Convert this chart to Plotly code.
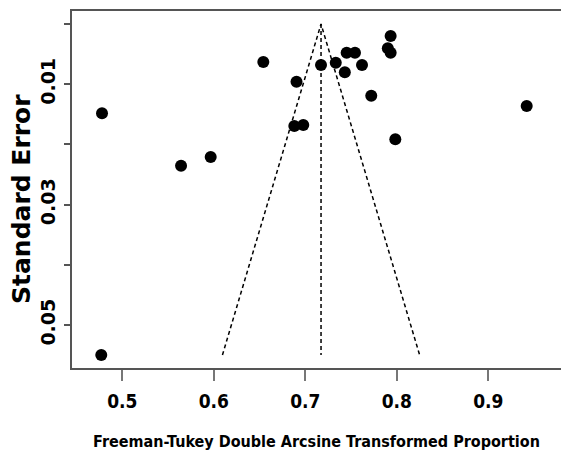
import plotly.graph_objects as go

# Study estimates (Freeman-Tukey double arcsine transformed proportion) and standard errors
effect = [0.4778, 0.5642, 0.5966, 0.6541, 0.6904, 0.6880, 0.6978, 0.7172, 0.7333, 0.7452,
          0.7543, 0.7432, 0.7620, 0.7721, 0.7933, 0.7902, 0.7933, 0.7984, 0.9420, 0.4770]
std_err = [0.01483, 0.02353, 0.02209, 0.00631, 0.00958, 0.01694, 0.01678, 0.00681, 0.00642, 0.00476,
           0.00476, 0.00803, 0.00681, 0.01191, 0.00199, 0.00404, 0.00476, 0.01916, 0.01362, 0.05498]
pooled = 0.7172
z = 1.96

x_ticks = [0.5, 0.6, 0.7, 0.8, 0.9]
x_tick_labels = ["0.5", "0.6", "0.7", "0.8", "0.9"]
y_ticks = [0.0, 0.01, 0.02, 0.03, 0.04, 0.05]
y_tick_labels = ["", "0.01", "", "0.03", "", "0.05"]
x_title = "Freeman-Tukey Double Arcsine Transformed Proportion"
y_title = "Standard Error"

se_max = max(std_err)
cond = "DejaVu Sans Condensed, Liberation Sans Narrow, Arial Narrow, sans-serif"
wide = "DejaVu Sans, Verdana, sans-serif"

fig = go.Figure()
dash = "4px,3px"
fig.add_trace(go.Scatter(x=[pooled, pooled], y=[0, se_max], mode="lines",
                         line=dict(color="black", width=1.5, dash=dash), hoverinfo="skip"))
fig.add_trace(go.Scatter(x=[pooled - z * se_max, pooled, pooled + z * se_max],
                         y=[se_max, 0, se_max], mode="lines",
                         line=dict(color="black", width=1.5, dash=dash), hoverinfo="skip"))
fig.add_trace(go.Scatter(x=effect, y=std_err, mode="markers",
                         marker=dict(color="black", size=12, symbol="circle")))

fig.update_layout(
    width=561, height=455,
    margin=dict(l=72, r=0, t=11, b=87),
    plot_bgcolor="white", paper_bgcolor="white",
    showlegend=False,
    annotations=[dict(text=y_title, xref="paper", yref="paper", x=-0.1023, y=0.4734,
                      xanchor="center", yanchor="middle", textangle=-90, showarrow=False,
                      font=dict(family=wide, size=25, color="black", weight="bold"))],
)
fig.update_xaxes(
    range=[0.445, 0.9795], tickvals=x_ticks, ticktext=x_tick_labels,
    showgrid=False, zeroline=False, showline=True, mirror=True, linecolor="#555", linewidth=1.5,
    ticks="outside", ticklen=11, tickcolor="#777", tickwidth=1.5,
    tickfont=dict(family=cond, size=19, color="black", weight="bold"),
    ticklabelstandoff=4,
    title=dict(text=x_title,
               font=dict(family=cond, size=16, color="black", weight="bold"),
               standoff=25),
)
fig.update_yaxes(
    range=[0.05714, -0.00216], tickvals=y_ticks, ticktext=y_tick_labels,
    showgrid=False, zeroline=False, showline=True, mirror=False, linecolor="#555", linewidth=1.5,
    ticks="outside", ticklen=6, tickcolor="#555", tickwidth=1.5, tickangle=-90,
    tickfont=dict(family=wide, size=19, color="black", weight="bold"),
    ticklabelstandoff=2,
)

fig.write_html("out.html")
